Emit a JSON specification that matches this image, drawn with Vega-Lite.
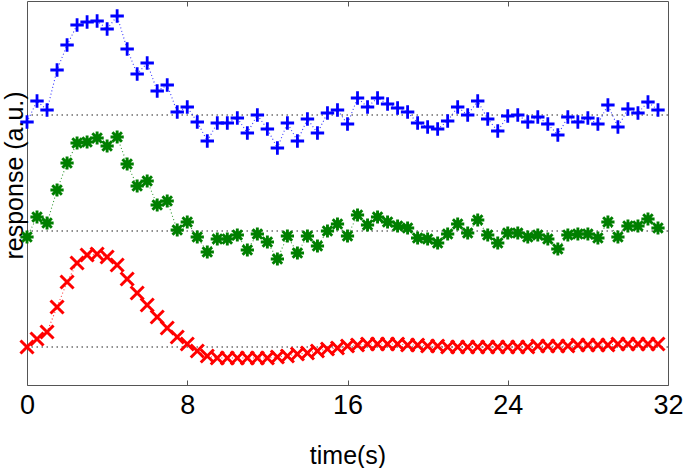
{
  "$schema": "https://vega.github.io/schema/vega-lite/v6.json",
  "width": 641,
  "height": 384,
  "autosize": "none",
  "padding": {"left": 27, "top": 1, "right": 17, "bottom": 83},
  "config": {"view": {"stroke": "#555", "strokeWidth": 1}, "font": "Liberation Sans"},
  "datasets": {
    "base": [{"b": 0}, {"b": 116}, {"b": 232}],
    "resp": [
      {"t":0,"s":"a","v":225},{"t":0.5,"s":"a","v":246},{"t":1,"s":"a","v":237},{"t":1.5,"s":"a","v":277},{"t":2,"s":"a","v":302},{"t":2.5,"s":"a","v":322},{"t":3,"s":"a","v":325},{"t":3.5,"s":"a","v":326},
      {"t":4,"s":"a","v":318},{"t":4.5,"s":"a","v":331},{"t":5,"s":"a","v":298},{"t":5.5,"s":"a","v":273},{"t":6,"s":"a","v":284},{"t":6.5,"s":"a","v":256},{"t":7,"s":"a","v":262},{"t":7.5,"s":"a","v":235},
      {"t":8,"s":"a","v":240},{"t":8.5,"s":"a","v":225},{"t":9,"s":"a","v":206},{"t":9.5,"s":"a","v":224},{"t":10,"s":"a","v":224},{"t":10.5,"s":"a","v":229},{"t":11,"s":"a","v":214},{"t":11.5,"s":"a","v":232},
      {"t":12,"s":"a","v":218},{"t":12.5,"s":"a","v":199},{"t":13,"s":"a","v":224},{"t":13.5,"s":"a","v":206},{"t":14,"s":"a","v":228},{"t":14.5,"s":"a","v":214},{"t":15,"s":"a","v":234},{"t":15.5,"s":"a","v":237},
      {"t":16,"s":"a","v":223},{"t":16.5,"s":"a","v":249},{"t":17,"s":"a","v":240},{"t":17.5,"s":"a","v":249},{"t":18,"s":"a","v":243},{"t":18.5,"s":"a","v":239},{"t":19,"s":"a","v":235},{"t":19.5,"s":"a","v":224},
      {"t":20,"s":"a","v":220},{"t":20.5,"s":"a","v":218},{"t":21,"s":"a","v":226},{"t":21.5,"s":"a","v":240},{"t":22,"s":"a","v":232},{"t":22.5,"s":"a","v":246},{"t":23,"s":"a","v":228},{"t":23.5,"s":"a","v":216},
      {"t":24,"s":"a","v":231},{"t":24.5,"s":"a","v":232},{"t":25,"s":"a","v":225},{"t":25.5,"s":"a","v":230},{"t":26,"s":"a","v":223},{"t":26.5,"s":"a","v":212},{"t":27,"s":"a","v":230},{"t":27.5,"s":"a","v":225},
      {"t":28,"s":"a","v":229},{"t":28.5,"s":"a","v":223},{"t":29,"s":"a","v":242},{"t":29.5,"s":"a","v":220},{"t":30,"s":"a","v":238},{"t":30.5,"s":"a","v":234},{"t":31,"s":"a","v":245},{"t":31.5,"s":"a","v":237},
      {"t":0,"s":"b","v":110},{"t":0.5,"s":"b","v":130},{"t":1,"s":"b","v":124},{"t":1.5,"s":"b","v":157},{"t":2,"s":"b","v":184},{"t":2.5,"s":"b","v":204},{"t":3,"s":"b","v":205},{"t":3.5,"s":"b","v":209},
      {"t":4,"s":"b","v":201},{"t":4.5,"s":"b","v":210},{"t":5,"s":"b","v":183},{"t":5.5,"s":"b","v":161},{"t":6,"s":"b","v":166},{"t":6.5,"s":"b","v":142},{"t":7,"s":"b","v":146},{"t":7.5,"s":"b","v":117},
      {"t":8,"s":"b","v":125},{"t":8.5,"s":"b","v":110},{"t":9,"s":"b","v":95},{"t":9.5,"s":"b","v":108},{"t":10,"s":"b","v":108},{"t":10.5,"s":"b","v":112},{"t":11,"s":"b","v":97},{"t":11.5,"s":"b","v":113},
      {"t":12,"s":"b","v":105},{"t":12.5,"s":"b","v":88},{"t":13,"s":"b","v":111},{"t":13.5,"s":"b","v":94},{"t":14,"s":"b","v":111},{"t":14.5,"s":"b","v":101},{"t":15,"s":"b","v":116},{"t":15.5,"s":"b","v":123},
      {"t":16,"s":"b","v":111},{"t":16.5,"s":"b","v":132},{"t":17,"s":"b","v":122},{"t":17.5,"s":"b","v":130},{"t":18,"s":"b","v":125},{"t":18.5,"s":"b","v":121},{"t":19,"s":"b","v":119},{"t":19.5,"s":"b","v":109},
      {"t":20,"s":"b","v":108},{"t":20.5,"s":"b","v":104},{"t":21,"s":"b","v":113},{"t":21.5,"s":"b","v":123},{"t":22,"s":"b","v":114},{"t":22.5,"s":"b","v":127},{"t":23,"s":"b","v":112},{"t":23.5,"s":"b","v":104},
      {"t":24,"s":"b","v":114},{"t":24.5,"s":"b","v":114},{"t":25,"s":"b","v":110},{"t":25.5,"s":"b","v":112},{"t":26,"s":"b","v":108},{"t":26.5,"s":"b","v":98},{"t":27,"s":"b","v":112},{"t":27.5,"s":"b","v":113},
      {"t":28,"s":"b","v":113},{"t":28.5,"s":"b","v":109},{"t":29,"s":"b","v":125},{"t":29.5,"s":"b","v":110},{"t":30,"s":"b","v":121},{"t":30.5,"s":"b","v":121},{"t":31,"s":"b","v":128},{"t":31.5,"s":"b","v":119},
      {"t":0,"s":"c","v":0},{"t":0.5,"s":"c","v":8},{"t":1,"s":"c","v":15},{"t":1.5,"s":"c","v":40},{"t":2,"s":"c","v":65},{"t":2.5,"s":"c","v":84},{"t":3,"s":"c","v":92},{"t":3.5,"s":"c","v":93},
      {"t":4,"s":"c","v":90},{"t":4.5,"s":"c","v":82},{"t":5,"s":"c","v":68},{"t":5.5,"s":"c","v":54},{"t":6,"s":"c","v":42},{"t":6.5,"s":"c","v":30},{"t":7,"s":"c","v":19},{"t":7.5,"s":"c","v":10},
      {"t":8,"s":"c","v":3},{"t":8.5,"s":"c","v":-4},{"t":9,"s":"c","v":-9},{"t":9.5,"s":"c","v":-11},{"t":10,"s":"c","v":-11},{"t":10.5,"s":"c","v":-11},{"t":11,"s":"c","v":-11},{"t":11.5,"s":"c","v":-11},
      {"t":12,"s":"c","v":-11},{"t":12.5,"s":"c","v":-10},{"t":13,"s":"c","v":-9},{"t":13.5,"s":"c","v":-7},{"t":14,"s":"c","v":-6},{"t":14.5,"s":"c","v":-4},{"t":15,"s":"c","v":-2},{"t":15.5,"s":"c","v":-1},
      {"t":16,"s":"c","v":1},{"t":16.5,"s":"c","v":2},{"t":17,"s":"c","v":3},{"t":17.5,"s":"c","v":3},{"t":18,"s":"c","v":3},{"t":18.5,"s":"c","v":3},{"t":19,"s":"c","v":2},{"t":19.5,"s":"c","v":2},
      {"t":20,"s":"c","v":1},{"t":20.5,"s":"c","v":1},{"t":21,"s":"c","v":0},{"t":21.5,"s":"c","v":0},{"t":22,"s":"c","v":0},{"t":22.5,"s":"c","v":0},{"t":23,"s":"c","v":0},{"t":23.5,"s":"c","v":0},
      {"t":24,"s":"c","v":0},{"t":24.5,"s":"c","v":0},{"t":25,"s":"c","v":0},{"t":25.5,"s":"c","v":1},{"t":26,"s":"c","v":1},{"t":26.5,"s":"c","v":1},{"t":27,"s":"c","v":1},{"t":27.5,"s":"c","v":2},
      {"t":28,"s":"c","v":2},{"t":28.5,"s":"c","v":2},{"t":29,"s":"c","v":2},{"t":29.5,"s":"c","v":3},{"t":30,"s":"c","v":3},{"t":30.5,"s":"c","v":3},{"t":31,"s":"c","v":3},{"t":31.5,"s":"c","v":3}
    ]
  },
  "layer": [
    {
      "data": {"name": "base"},
      "mark": {"type": "rule", "color": "#222", "strokeDash": [1.5, 3.5], "strokeWidth": 1.2},
      "encoding": {
        "y": {
          "field": "b", "type": "quantitative",
          "scale": {"domain": [-38, 346], "nice": false, "zero": false},
          "axis": {
            "title": "response (a.u.)", "labels": false, "ticks": false, "domain": false, "grid": false,
            "titleFontSize": 25, "titleFontWeight": "normal", "titleColor": "#000", "titleLimit": 400,
            "titleAngle": -90, "titleX": -5, "titleY": 174, "titleAlign": "center", "titleBaseline": "alphabetic"
          }
        }
      }
    },
    {
      "data": {"name": "resp"},
      "mark": {"type": "line", "strokeDash": [1, 2.5], "strokeWidth": 1.1, "opacity": 0.8},
      "encoding": {
        "x": {
          "field": "t", "type": "quantitative",
          "scale": {"domain": [0, 32], "nice": false, "zero": false},
          "axis": {
            "values": [0, 8, 16, 24, 32], "grid": false, "domain": false,
            "tickSize": -5, "tickColor": "#555",
            "labelFontSize": 27, "labelColor": "#000", "labelPadding": 12, "labelFlush": false,
            "title": "time(s)", "titleFontSize": 25, "titleFontWeight": "normal", "titleColor": "#000",
            "titleY": 78, "titleBaseline": "alphabetic"
          }
        },
        "y": {"field": "v", "type": "quantitative"},
        "color": {"field": "s", "type": "nominal", "scale": {"domain": ["a", "b", "c"], "range": ["#0000ff", "#007f00", "#ff0000"]}, "legend": null},
        "detail": {"field": "s"}
      }
    },
    {
      "data": {"name": "resp"},
      "mark": {"type": "point", "filled": false, "opacity": 1},
      "encoding": {
        "x": {
          "field": "t", "type": "quantitative",
          "axis": {"orient": "top", "labels": false, "title": null, "domain": false, "grid": false, "values": [8, 16, 24], "tickSize": -5, "tickColor": "#555"}
        },
        "y": {"field": "v", "type": "quantitative"},
        "color": {"field": "s", "type": "nominal", "legend": null},
        "shape": {
          "field": "s", "type": "nominal", "legend": null,
          "scale": {"domain": ["a", "b", "c"], "range": ["M-1,0L1,0M0,-1L0,1", "M-1,0L1,0M0,-1L0,1M-0.72,-0.72L0.72,0.72M-0.72,0.72L0.72,-0.72", "M-1,-1L1,1M-1,1L1,-1"]}
        },
        "size": {
          "field": "s", "type": "nominal", "legend": null,
          "scale": {"domain": ["a", "b", "c"], "range": [180, 170, 90]}
        },
        "strokeWidth": {
          "field": "s", "type": "nominal", "legend": null,
          "scale": {"domain": ["a", "b", "c"], "range": [2.8, 3, 2.6]}
        }
      }
    }
  ],
  "resolve": {"axis": {"x": "independent"}}
}
